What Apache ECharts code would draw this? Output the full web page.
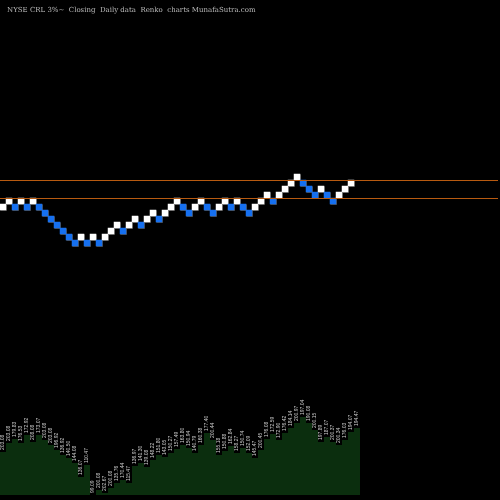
<!DOCTYPE html>
<html><head><meta charset="utf-8">
<script src="https://cdn.jsdelivr.net/npm/echarts@6/dist/echarts.min.js"></script>
<style>body{margin:0;background:#000}#c{width:500px;height:500px}</style>
</head><body><div id="c"></div>
<script>
// renko brick levels (1 = up/white, 0 = down/blue)
var levels = [0,1,0,1,0,1,0,-1,-2,-3,-4,-5,-6,-5,-6,-5,-6,-5,-4,-3,-4,-3,-2,-3,-2,-1,-2,-1,0,1,0,-1,0,1,0,-1,0,1,0,1,0,-1,0,1,2,1,2,3,4,5,4,3,2,3,2,1,2,3,4];
var dirs   = [1,1,0,1,0,1,0,0,0,0,0,0,0,1,0,1,0,1,1,1,0,1,1,0,1,1,0,1,1,1,0,0,1,1,0,0,1,1,0,1,0,0,1,1,1,0,1,1,1,1,0,0,0,1,0,0,1,1,1];
var volumes = [43,52,56,52,60,53,60,55,50,45,40,37,32,18,30,0,5,2,7,12,15,12,29,32,28,35,40,38,42,46,50,47,42,50,62,55,40,44,49,42,47,42,37,45,56,61,55,62,67,72,78,72,65,53,58,53,50,55,63,67];
var priceLabels = ['203.08','203.08','179.83','176.53','172.92','208.08','173.07','203.08','203.08','196.92','136.92','140.50','144.08','136.07','110.47','99.09','200.08','202.67','200.08','135.76','170.44','115.47','136.97','141.30','139.08','148.22','151.80','143.05','150.27','157.49','163.80','150.94','140.79','160.38','177.40','200.44','155.18','150.88','162.84','158.27','150.74','152.09','145.47','200.45','176.08','172.59','172.90','176.42','184.14','200.97','197.04','190.08','200.15','197.89','187.07','200.37','200.34','176.03','194.07','194.47'];

var cats = [];
for (var i = 0; i < 83; i++) cats.push(i);
var bricks = levels.map(function (v, i) {
    return {value: [i, v], itemStyle: {color: dirs[i] ? '#ffffff' : '#1670f0'}};
});

var chart = echarts.init(document.getElementById('c'));
chart.setOption({
    backgroundColor: '#000',
    animation: false,
    title: {
        text: 'NYSE CRL 3%~  Closing  Daily data  Renko  charts MunafaSutra.com',
        left: 2, top: 2,
        textStyle: {color: '#bbb', fontSize: 7, fontWeight: 'normal', fontFamily: 'DejaVu Serif'}
    },
    grid: [
        {left: 0, width: 498, top: 87, height: 240},
        {left: 0, width: 360, top: 380, height: 115}
    ],
    xAxis: [
        {type: 'category', data: cats, gridIndex: 0, show: false},
        {type: 'category', data: priceLabels, gridIndex: 1, show: false}
    ],
    yAxis: [
        {type: 'value', gridIndex: 0, min: -20, max: 20, show: false},
        {type: 'value', gridIndex: 1, min: 0, max: 115, show: false}
    ],
    series: [{
        type: 'scatter',
        symbol: 'rect',
        symbolSize: [6.5, 6.5],
        itemStyle: {opacity: 1, shadowColor: '#555', shadowOffsetX: 0.6, shadowOffsetY: 0.6},
        emphasis: {disabled: true},
        data: bricks,
        markLine: {
            silent: true, symbol: 'none', label: {show: false},
            lineStyle: {color: '#b85a10', width: 1, type: 'solid'},
            data: [{yAxis: 1.45}, {yAxis: 4.45}]
        }
    }, {
        type: 'bar',
        xAxisIndex: 1, yAxisIndex: 1,
        barWidth: '100%',
        itemStyle: {color: '#0b2e0e'},
        label: {
            show: true, position: 'top', rotate: 90, align: 'left', verticalAlign: 'middle',
            distance: 2, fontSize: 5, color: '#ccc',
            formatter: function (p) { return priceLabels[p.dataIndex]; }
        },
        data: volumes
    }]
});
</script></body></html>
